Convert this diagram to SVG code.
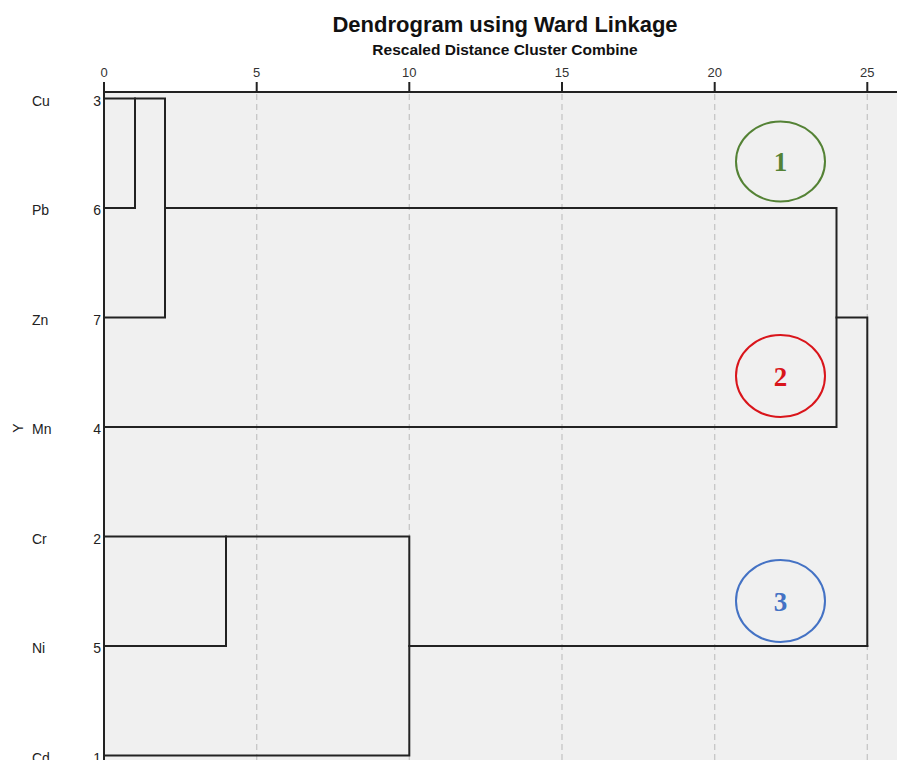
<svg xmlns="http://www.w3.org/2000/svg" width="897" height="760" viewBox="0 0 897 760">
  <style>
    .title { font-family: "Liberation Sans", Arial, sans-serif; font-weight: bold; fill: #111; }
    .tick-label { font-family: "Liberation Sans", Arial, sans-serif; font-size: 13px; fill: #333; text-anchor: middle; }
    .leaf-name { font-family: "Liberation Sans", Arial, sans-serif; font-size: 14px; fill: #222; }
    .leaf-num { font-family: "Liberation Sans", Arial, sans-serif; font-size: 14px; fill: #222; text-anchor: end; }
    .grid { stroke: #c6c6c6; stroke-width: 1.3; stroke-dasharray: 6 4; fill: none; }
    .axis { stroke: #222; stroke-width: 2; fill: none; }
    .link { stroke: #222; stroke-width: 2; fill: none; stroke-linejoin: miter; stroke-linecap: square; }
    .ring { fill: none; stroke-width: 2; }
    .ring-num { font-family: "Liberation Serif", "Times New Roman", serif; font-weight: bold; font-size: 27px; text-anchor: middle; }
  </style>

  <rect width="897" height="760" fill="#ffffff"/>
  <!-- plot area -->
  <rect x="104" y="92" width="793" height="668" fill="#f0f0f0"/>

  <!-- titles -->
  <text class="title" x="505" y="32" font-size="22" text-anchor="middle">Dendrogram using Ward Linkage</text>
  <text class="title" x="505" y="55" font-size="15.5" text-anchor="middle">Rescaled Distance Cluster Combine</text>

  <!-- grid lines (scale: 0 at x=104, 30.53 px per unit) -->
  <g id="grid">
    <line class="grid" x1="256.7" y1="94" x2="256.7" y2="760"/>
    <line class="grid" x1="409.3" y1="94" x2="409.3" y2="760"/>
    <line class="grid" x1="562" y1="94" x2="562" y2="760"/>
    <line class="grid" x1="714.7" y1="94" x2="714.7" y2="760"/>
    <line class="grid" x1="867.3" y1="94" x2="867.3" y2="760"/>
  </g>

  <!-- distance axis -->
  <g id="axis">
    <line class="axis" x1="104" y1="92" x2="897" y2="92"/>
    <line class="axis" x1="104" y1="82" x2="104" y2="760"/>
    <line class="axis" x1="256.7" y1="82" x2="256.7" y2="92"/>
    <line class="axis" x1="409.3" y1="82" x2="409.3" y2="92"/>
    <line class="axis" x1="562" y1="82" x2="562" y2="92"/>
    <line class="axis" x1="714.7" y1="82" x2="714.7" y2="92"/>
    <line class="axis" x1="867.3" y1="82" x2="867.3" y2="92"/>
    <text class="tick-label" x="104" y="77">0</text>
    <text class="tick-label" x="256.7" y="77">5</text>
    <text class="tick-label" x="409.3" y="77">10</text>
    <text class="tick-label" x="562" y="77">15</text>
    <text class="tick-label" x="714.7" y="77">20</text>
    <text class="tick-label" x="867.3" y="77">25</text>
    <text class="leaf-name" transform="translate(23 428) rotate(-90)" text-anchor="middle">Y</text>
  </g>

  <!-- leaves -->
  <g id="leaf-cu"><text class="leaf-name" x="32" y="106">Cu</text><text class="leaf-num" x="101" y="106">3</text></g>
  <g id="leaf-pb"><text class="leaf-name" x="32" y="215">Pb</text><text class="leaf-num" x="101" y="215">6</text></g>
  <g id="leaf-zn"><text class="leaf-name" x="32" y="325">Zn</text><text class="leaf-num" x="101" y="325">7</text></g>
  <g id="leaf-mn"><text class="leaf-name" x="32" y="434">Mn</text><text class="leaf-num" x="101" y="434">4</text></g>
  <g id="leaf-cr"><text class="leaf-name" x="32" y="544">Cr</text><text class="leaf-num" x="101" y="544">2</text></g>
  <g id="leaf-ni"><text class="leaf-name" x="32" y="653">Ni</text><text class="leaf-num" x="101" y="653">5</text></g>
  <g id="leaf-cd"><text class="leaf-name" x="32" y="763">Cd</text><text class="leaf-num" x="101" y="763">1</text></g>

  <!-- cluster links -->
  <g id="connectors">
    <path class="link" d="M104 98.5 H135 V208 H104"/>
    <path class="link" d="M135 98.5 H165 V317.5 H104"/>
    <path class="link" d="M165 208 H836.5 V427 H104"/>
    <path class="link" d="M836.5 317.5 H867.3 V646"/>
    <path class="link" d="M104 536.5 H226 V646 H104"/>
    <path class="link" d="M226 536.5 H409.3 V755.5 H104"/>
    <path class="link" d="M409.3 646 H867.3"/>
  </g>

  <!-- cluster markers -->
  <g id="cluster-1">
    <ellipse class="ring" cx="780.5" cy="161.5" rx="44.5" ry="40" stroke="#548235"/>
    <text class="ring-num" x="780.5" y="171" fill="#548235">1</text>
  </g>
  <g id="cluster-2">
    <ellipse class="ring" cx="780.5" cy="376" rx="44.5" ry="41" stroke="#d9151b"/>
    <text class="ring-num" x="780.5" y="386" fill="#d9151b">2</text>
  </g>
  <g id="cluster-3">
    <ellipse class="ring" cx="780.5" cy="601" rx="44.5" ry="41" stroke="#4472c4"/>
    <text class="ring-num" x="780.5" y="611" fill="#4472c4">3</text>
  </g>
</svg>
